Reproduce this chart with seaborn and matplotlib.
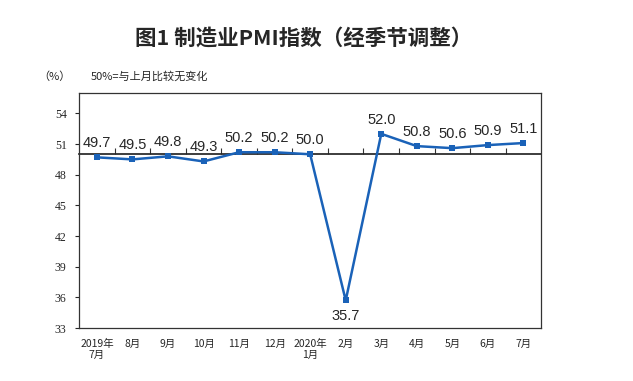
import matplotlib
matplotlib.use('Agg')
import matplotlib.pyplot as plt
import seaborn as sns

# 制造业PMI (经季节调整), 2019年7月 - 2020年7月
months = ['2019年\n7月', '8月', '9月', '10月', '11月', '12月', '2020年\n1月',
          '2月', '3月', '4月', '5月', '6月', '7月']
pmi = [49.7, 49.5, 49.8, 49.3, 50.2, 50.2, 50.0, 35.7, 52.0, 50.8, 50.6, 50.9, 51.1]
yticks = [33, 36, 39, 42, 45, 48, 51, 54]

sns.set_theme(style='white')
plt.rcParams['font.family'] = ['Noto Sans CJK SC', 'DejaVu Sans']

line_color = '#1A62B8'
pos = list(range(len(months)))

fig = plt.figure(figsize=(6.33, 3.81), dpi=100)
ax = fig.add_axes([0.125, 0.139, 0.730, 0.617])

sns.lineplot(x=pos, y=pmi, ax=ax, color=line_color, linewidth=1.8,
             marker='s', markersize=4, markeredgewidth=0, markerfacecolor=line_color)

for x, v in zip(pos, pmi):
    if v < 40:
        ax.annotate(f'{v:.1f}', (x, v), xytext=(0, -6), textcoords='offset points',
                    ha='center', va='top', fontsize=10.5, family='Liberation Sans')
    else:
        ax.annotate(f'{v:.1f}', (x, v), xytext=(0, 5), textcoords='offset points',
                    ha='center', va='bottom', fontsize=10.5, family='Liberation Sans')

ax.set_xlim(-0.5, len(months) - 0.5)
ax.set_ylim(33, 56)
ax.set_yticks(yticks)
ax.set_yticklabels([str(t) for t in yticks], family='Liberation Serif', fontsize=8.5)
ax.set_xticks(pos)
ax.set_xticklabels(months, fontsize=7.5, linespacing=1.1)
ax.tick_params(axis='x', length=0, pad=8)
ax.tick_params(axis='y', length=3, width=0.8, direction='out', left=True, pad=6)

for s in ax.spines.values():
    s.set_color('#333333')
    s.set_linewidth(0.9)

# 50% reference line with tick marks between months
ref = ax.secondary_xaxis((50 - 33) / (56 - 33))
ref.set_xticks([p + 0.5 for p in pos[:-1]])
ref.tick_params(bottom=True, top=False, direction='in', length=4, width=0.8,
                labelbottom=False, labeltop=False, color='#333333')
ref.spines['bottom'].set_color('#333333')
ref.spines['bottom'].set_linewidth(0.9)

ax.set_xlabel('')
ax.set_ylabel('')

fig.text(0.48, 0.90, '图1 制造业PMI指数（经季节调整）', ha='center', va='center',
         fontsize=15.5, fontweight='bold')
fig.text(0.06, 0.80, '（%）', ha='left', va='center', fontsize=8)
fig.text(0.143, 0.80, '50%=与上月比较无变化', ha='left', va='center', fontsize=8)

fig.savefig('out.png', dpi=100)
